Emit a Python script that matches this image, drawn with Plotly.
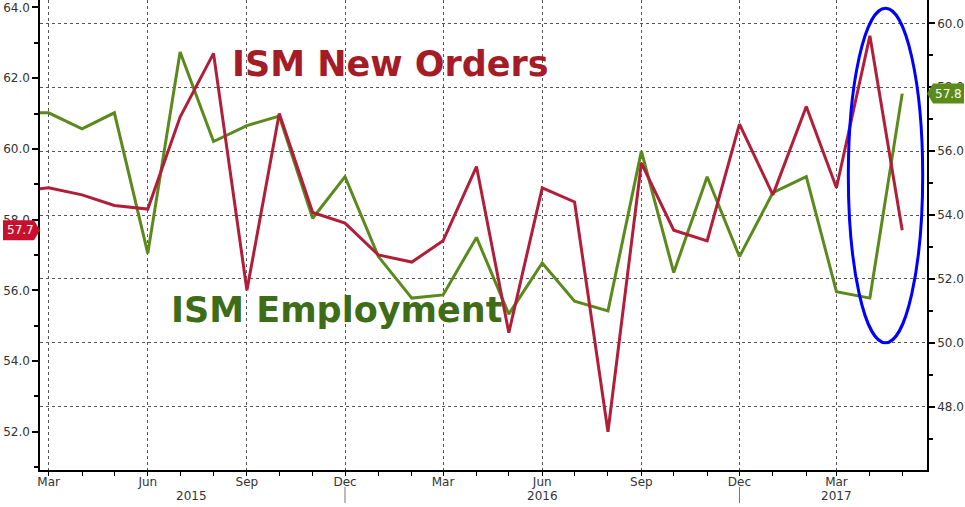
import plotly.graph_objects as go
import pandas as pd

# ---- data (monthly, Feb 2015 .. May 2017) ----
months = pd.date_range("2015-02-01", "2017-05-01", freq="MS")
new_orders = [58.8, 58.9, 58.7, 58.4, 58.3, 60.9, 62.7, 56.0, 61.0, 58.2, 57.9,
              57.0, 56.8, 57.4, 59.5, 54.8, 58.9, 58.5, 52.0, 59.6, 57.7, 57.4, 60.7,
              58.7, 61.2, 58.9, 63.2, 57.7]
employment = [57.2, 57.2, 56.7, 57.2, 52.8, 59.1, 56.3, 56.8, 57.1, 53.9, 55.2,
              52.7, 51.4, 51.5, 53.3, 50.9, 52.5, 51.3, 51.0, 56.0, 52.2, 55.2, 52.7,
              54.7, 55.2, 51.6, 51.4, 57.8]
year_labels = ["2015", "2016", "2017"]
year_label_pos = ["2015-07-12", "2016-06-01", "2017-03-01"]
year_dividers = ["2015-12-01", "2016-12-01"]

RED = "#B11E3A"
GREEN = "#5A8A1C"
RED_TXT = "#A51B26"
GREEN_TXT = "#3E6C17"
FONT = "DejaVu Sans"

fig = go.Figure()
# employment on the right axis (base y), new orders on left axis (y2, drawn on top)
fig.add_trace(go.Scatter(x=months, y=employment, yaxis="y", mode="lines",
                         line=dict(color=GREEN, width=3), name="ISM Employment",
                         showlegend=False))
fig.add_trace(go.Scatter(x=months, y=new_orders, yaxis="y2", mode="lines",
                         line=dict(color=RED, width=3), name="ISM New Orders",
                         showlegend=False))

tickfont = dict(family=FONT, size=12, color="#333333")

fig.update_layout(
    width=965, height=507,
    margin=dict(l=40, r=38, t=0, b=37),
    paper_bgcolor="white", plot_bgcolor="white",
    showlegend=False,
    xaxis=dict(
        type="date", range=["2015-02-21", "2017-05-24"],
        tick0="2015-03-01", dtick="M3", tickformat="%b",
        ticks="outside", ticklen=4, tickcolor="black", tickwidth=1,
        ticklabelstandoff=-4,
        showgrid=True, gridcolor="#555555", griddash="dot", gridwidth=1,
        showline=True, linecolor="black", linewidth=1.5,
        minor=dict(dtick="M1", ticks="outside", ticklen=4, tickcolor="black", showgrid=False),
        tickfont=tickfont, zeroline=False, automargin=False,
    ),
    yaxis=dict(
        side="right", range=[46.02, 60.73], tick0=0, dtick=2, tickformat=".1f",
        ticks="outside", ticklen=6, tickwidth=2, tickcolor="black",
        showgrid=True, gridcolor="#555555", griddash="dot", gridwidth=1,
        showline=True, linecolor="black", linewidth=1.5, zeroline=False,
        minor=dict(dtick=1, ticks="outside", ticklen=4, tickcolor="black", showgrid=False),
        tickfont=tickfont, automargin=False,
    ),
    yaxis2=dict(
        side="left", overlaying="y", range=[50.92, 64.21], tick0=0, dtick=2, tickformat=".1f",
        ticks="outside", ticklen=6, tickwidth=2, tickcolor="black",
        showgrid=False, showline=True, linecolor="black", linewidth=1.5, zeroline=False,
        minor=dict(dtick=1, ticks="outside", ticklen=4, tickcolor="black", showgrid=False),
        tickfont=tickfont, automargin=False,
    ),
)

shapes = []
# highlight ellipse around the last two months
shapes.append(dict(type="circle", xref="x", yref="y",
                   x0="2017-03-12", x1="2017-05-20", y0=50.0, y1=60.47,
                   line=dict(color="#0000FF", width=3), fillcolor="rgba(0,0,0,0)"))
# last-value tags
shapes.append(dict(type="path", xref="paper", yref="y2", xsizemode="pixel", ysizemode="pixel",
                   xanchor=0, yanchor=new_orders[-1],
                   path="M -37,-10 L -6,-10 L 0,0 L -6,10 L -37,10 Z",
                   fillcolor="#C8102E", line=dict(width=0), layer="above"))
shapes.append(dict(type="path", xref="paper", yref="y", xsizemode="pixel", ysizemode="pixel",
                   xanchor=1, yanchor=employment[-1],
                   path="M 0,0 L 6,-10 L 37,-10 L 37,10 L 6,10 Z",
                   fillcolor="#5B8C1A", line=dict(width=0), layer="above"))
# year dividers below the month labels
for d in year_dividers:
    shapes.append(dict(type="line", xref="x", yref="paper", x0=d, x1=d,
                       y0=-17 / 470, y1=-33 / 470, line=dict(color="#777777", width=1)))
fig.update_layout(shapes=shapes)

ann = []
ann.append(dict(text=f"{new_orders[-1]:.1f}", xref="paper", yref="y2", x=0, xshift=-20,
                xanchor="center", yanchor="middle",
                y=new_orders[-1], showarrow=False, font=dict(family=FONT, size=12, color="white")))
ann.append(dict(text=f"{employment[-1]:.1f}", xref="paper", yref="y", x=1, xshift=21,
                xanchor="center", yanchor="middle",
                y=employment[-1], showarrow=False, font=dict(family=FONT, size=12, color="white")))
for t, p in zip(year_labels, year_label_pos):
    ann.append(dict(text=t, xref="x", yref="paper", x=p, y=-26 / 470, showarrow=False,
                    font=tickfont, xanchor="center", yanchor="middle"))
ann.append(dict(text="<b>ISM New Orders</b>", xref="paper", yref="paper",
                x=(230 - 40) / 887, y=1 - 64 / 470, xanchor="left", yanchor="middle",
                showarrow=False, font=dict(family=FONT, size=35, color=RED_TXT)))
ann.append(dict(text="<b>ISM Employment</b>", xref="paper", yref="paper",
                x=(169 - 40) / 887, y=1 - 310 / 470, xanchor="left", yanchor="middle",
                showarrow=False, font=dict(family=FONT, size=35, color=GREEN_TXT)))
fig.update_layout(annotations=ann)

fig.write_html("out.html", config={"displayModeBar": False},
               post_script="document.body.style.margin='0';")
